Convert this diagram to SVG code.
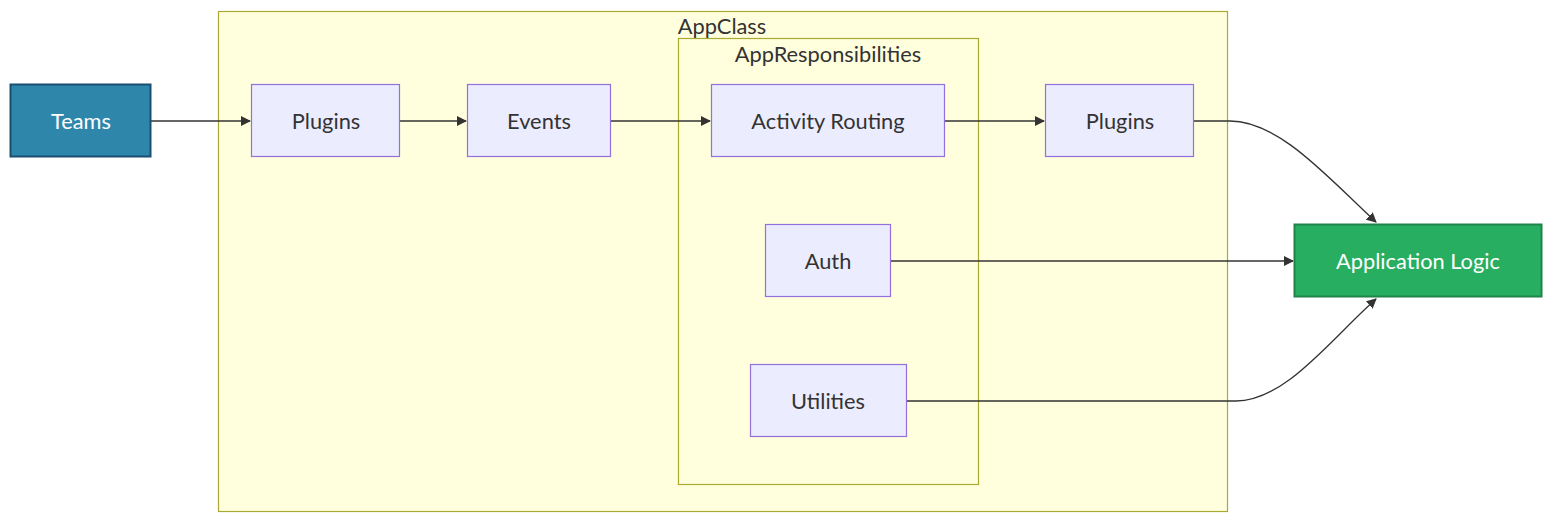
<svg xmlns="http://www.w3.org/2000/svg" width="1568" height="528" viewBox="0 0 1568 528">
<style>
text{font-family:Lato,"Open Sans","DejaVu Sans",sans-serif;font-size:21.8px;fill:#333;text-anchor:middle;dominant-baseline:central}
.cluster{fill:#ffffde;stroke:#aaaa33;stroke-width:1.2}
.node{fill:#ececff;stroke:#9370db;stroke-width:1.2}
.edge{fill:none;stroke:#333;stroke-width:1.3}
.w{fill:#fff}
</style>
<defs>
<marker id="arr" viewBox="0 0 10 10" refX="9" refY="5" markerWidth="10" markerHeight="10" markerUnits="userSpaceOnUse" orient="auto"><path d="M0,0 L10,5 L0,10 z" fill="#333"/></marker>
</defs>
<g id="AppClass"><rect class="cluster" x="218.5" y="11.5" width="1009" height="500"/><text x="722" y="25">AppClass</text></g>
<g id="AppResponsibilities"><rect class="cluster" x="678.5" y="38.5" width="300" height="446"/><text x="828" y="53">AppResponsibilities</text></g>
<g id="connectors">
<path class="edge" d="M151,121 H250" marker-end="url(#arr)"/>
<path class="edge" d="M400,121 H466" marker-end="url(#arr)"/>
<path class="edge" d="M610,121 H710" marker-end="url(#arr)"/>
<path class="edge" d="M945,121 H1044" marker-end="url(#arr)"/>
<path class="edge" d="M1194,121 H1230 C1280,121 1330,180 1376,222" marker-end="url(#arr)"/>
<path class="edge" d="M891,261 H1293" marker-end="url(#arr)"/>
<path class="edge" d="M907,401 H1236 C1285,401 1330,340 1376,299" marker-end="url(#arr)"/>
</g>
<g id="Teams"><rect x="10.5" y="84.5" width="140" height="72" fill="#2e86ab" stroke="#1b4f72" stroke-width="2"/><text class="w" x="81" y="120">Teams</text></g>
<g id="Plugins1"><rect class="node" x="251.5" y="84.5" width="148" height="72"/><text x="326" y="120">Plugins</text></g>
<g id="Events"><rect class="node" x="467.5" y="84.5" width="143" height="72"/><text x="539" y="120">Events</text></g>
<g id="ActivityRouting"><rect class="node" x="711.5" y="84.5" width="233" height="72"/><text x="828" y="120">Activity Routing</text></g>
<g id="Plugins2"><rect class="node" x="1045.5" y="84.5" width="148" height="72"/><text x="1120" y="120">Plugins</text></g>
<g id="Auth"><rect class="node" x="765.5" y="224.5" width="125" height="72"/><text x="828" y="260">Auth</text></g>
<g id="Utilities"><rect class="node" x="750.5" y="364.5" width="156" height="72"/><text x="828" y="400">Utilities</text></g>
<g id="ApplicationLogic"><rect x="1294.5" y="224.5" width="247" height="72" fill="#27ae60" stroke="#1e8449" stroke-width="2"/><text class="w" x="1418" y="260">Application Logic</text></g>
</svg>
